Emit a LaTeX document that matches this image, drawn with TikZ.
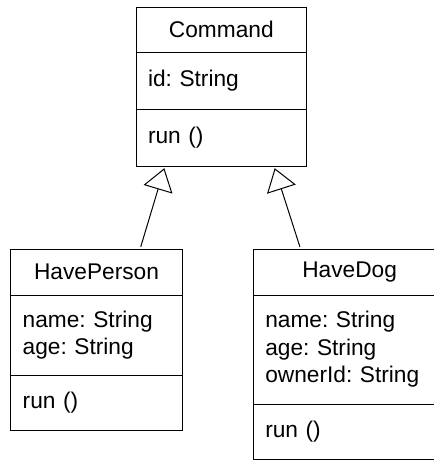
\documentclass[tikz,border=0pt]{standalone}
\usepackage{fontspec}
\setmainfont{Liberation Sans}
\usetikzlibrary{arrows.meta}
\usetikzlibrary{positioning}

\tikzset{
  umlpart/.style={draw, line width=0.5pt, inner xsep=6pt, inner ysep=0pt, outer sep=0pt,
    font=\fontsize{11.35}{13.8}\selectfont\frenchspacing},
  umlhead/.style 2 args={umlpart, minimum width=#1, minimum height=#2, align=center},
  umlbody/.style 2 args={umlpart, text width=#1, minimum height=#2, align=left},
  inherits/.style={line width=0.5pt, -{Triangle[open, length=11pt, width=15pt]},
    shorten <=1.3pt, shorten >=1.15pt},
}

\begin{document}
\begin{tikzpicture}
\useasboundingbox (0,0) rectangle (217pt,-230.5pt);
% parent class
\node [umlhead={85.3pt}{22.5pt}, anchor=north west] (cmdHead) at (68pt,-3.5pt) {Command};
\node [umlbody={73.3pt}{28.5pt}, below=0pt of cmdHead] (cmdAttr) {id: String};
\node [umlbody={73.3pt}{28.5pt}, below=0pt of cmdAttr] (cmdRun) {run ()};
% child classes
\node [umlhead={85.8pt}{22.85pt}, anchor=north west] (personHead) at (5.35pt,-124.65pt) {HavePerson};
\node [umlbody={73.8pt}{40pt}, below=0pt of personHead] (personAttr) {name: String\\age: String};
\node [umlbody={73.8pt}{27.85pt}, below=0pt of personAttr] (personRun) {run ()};
\node [umlhead={96.35pt}{22.85pt}, anchor=north west] (dogHead) at (126.65pt,-124.65pt) {HaveDog};
\node [umlbody={84.35pt}{54.5pt}, below=0pt of dogHead] (dogAttr) {name: String\\age: String\\ownerId: String};
\node [umlbody={84.35pt}{27.5pt}, below=0pt of dogAttr] (dogRun) {run ()};
% generalisation
\draw [inherits] ([xshift=-21.15pt]personHead.north east) -- ([xshift=14.5pt]cmdRun.south west);
\draw [inherits] ([xshift=23.7pt]dogHead.north west) -- ([xshift=-16.3pt]cmdRun.south east);
\end{tikzpicture}
\end{document}
